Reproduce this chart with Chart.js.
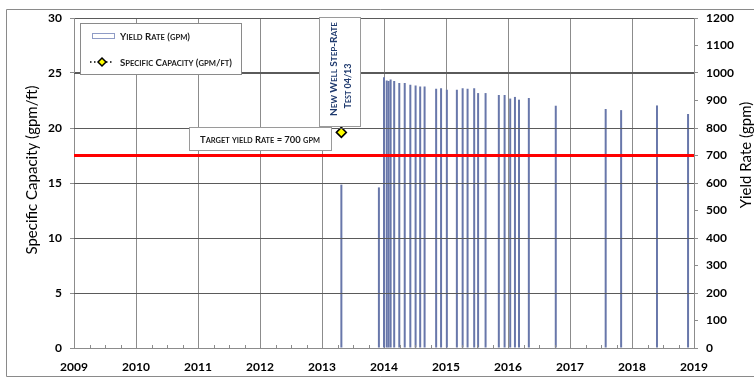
<!DOCTYPE html>
<html><head><meta charset="utf-8">
<script src="https://cdn.jsdelivr.net/npm/chart.js@4"></script>
<style>html,body{margin:0;padding:0;background:#fff}#wrap{width:754px;height:378px;position:relative}</style>
</head><body><div id="wrap"><canvas id="c"></canvas></div>
<script>
// ---- data ----
const yieldDates = ['2013-04-25','2013-12-02','2014-01-01','2014-01-17','2014-01-28','2014-02-09','2014-03-02','2014-04-01','2014-05-03','2014-06-05','2014-07-06','2014-08-02','2014-08-28','2014-11-04','2014-12-03','2015-01-06','2015-03-06','2015-04-09','2015-05-08','2015-06-16','2015-07-09','2015-08-22','2015-11-08','2015-12-12','2016-01-14','2016-02-11','2016-03-06','2016-05-03','2016-10-09','2017-07-30','2017-10-29','2018-05-28','2018-11-27'];
const yieldRates = [594,584,985,973,971,976,971,964,964,957,955,951,951,943,945,939,939,945,943,945,927,927,920,920,907,913,903,909,881,869,865,882,851];
const capDates = ['2013-04-25'];
const capValues = [19.6];
const targetYield = 700;
const yearRange = [2009, 2019];
const leftRange = [0, 30];
const rightRange = [0, 1200];

function toYear(s){
  const d = new Date(s + 'T00:00:00Z');
  const y = d.getUTCFullYear();
  const a = Date.UTC(y,0,1), b = Date.UTC(y+1,0,1);
  return y + (d.getTime()-a)/(b-a);
}
const yieldPts = yieldDates.map((d,i)=>({x:toYear(d), y:yieldRates[i]}));
const capPts = capDates.map((d,i)=>({x:toYear(d), y:capValues[i]}));
const targetPts = [{x:yearRange[0], y:targetYield},{x:yearRange[1], y:targetYield}];

const FONT = 'Lato';
const tickFont = {family: FONT, weight: 'bold', size: 12};

// small-caps text, horizontally fitted to a width
function scDraw(ctx, text, x, y, big, small, color, align, fitW){
  const runs = [];
  for (const ch of text){
    const isLower = ch !== ch.toUpperCase();
    const size = isLower ? small : big;
    const c = ch.toUpperCase();
    if (runs.length && runs[runs.length-1].size === size) runs[runs.length-1].t += c;
    else runs.push({t:c, size});
  }
  let w = 0;
  for (const r of runs){ ctx.font = `bold ${r.size}px ${FONT}`; r.w = ctx.measureText(r.t).width; w += r.w; }
  const k = fitW ? fitW / w : 1;
  ctx.save();
  ctx.translate(align === 'center' ? x - w*k/2 : x, y);
  ctx.scale(k, 1);
  ctx.fillStyle = color; ctx.textBaseline = 'alphabetic'; ctx.textAlign = 'left';
  let sx = 0;
  for (const r of runs){ ctx.font = `bold ${r.size}px ${FONT}`; ctx.fillText(r.t, sx, 0); sx += r.w; }
  ctx.restore();
}

const decor = {
  id: 'decor',
  afterDraw(chart){
    const ctx = chart.ctx, xs = chart.scales.x, ys = chart.scales.y, ca = chart.chartArea;
    ctx.save();
    // horizontal gridlines from the left value scale's ticks
    ctx.strokeStyle = '#5a5a5a'; ctx.lineWidth = 1;
    for (const t of ys.ticks){
      if (t.value <= leftRange[0] || t.value >= leftRange[1]) continue;
      const py = Math.round(ys.getPixelForValue(t.value)) + 0.5;
      ctx.beginPath(); ctx.moveTo(ca.left, py); ctx.lineTo(ca.right, py); ctx.stroke();
    }
    // minor quarter ticks on x axis
    ctx.strokeStyle = '#8c8c8c';
    for (let y = yearRange[0]; y < yearRange[1]; y++){
      for (const q of [0.25,0.5,0.75]){
        const px = Math.round(xs.getPixelForValue(y+q)) + 0.5;
        ctx.beginPath(); ctx.moveTo(px, ca.bottom); ctx.lineTo(px, ca.bottom-3); ctx.stroke();
      }
    }
    // outer frame
    ctx.strokeStyle = '#8a8a8a'; ctx.lineWidth = 1;
    ctx.beginPath();
    ctx.moveTo(754, 9.5); ctx.lineTo(6.5, 9.5); ctx.lineTo(6.5, 376.5); ctx.lineTo(754, 376.5);
    ctx.stroke();

    // legend box
    ctx.fillStyle = '#fff'; ctx.fillRect(80, 23, 162, 52);
    ctx.strokeStyle = '#8a8a8a'; ctx.strokeRect(80.5, 23.5, 161, 51);
    ctx.fillStyle = '#fff'; ctx.fillRect(92, 33, 23, 6);
    ctx.strokeStyle = '#8f9cc6'; ctx.strokeRect(92.5, 33.5, 22, 5);
    scDraw(ctx, 'Yield Rate (gpm)', 120, 40, 9.5, 7.5, '#1a1a1a', 'left', 70);
    ctx.strokeStyle = '#000'; ctx.lineWidth = 1.5; ctx.setLineDash([1.5,2.5]);
    ctx.beginPath(); ctx.moveTo(90, 62); ctx.lineTo(114, 62); ctx.stroke();
    ctx.setLineDash([]);
    ctx.beginPath(); ctx.moveTo(102, 58); ctx.lineTo(106, 62); ctx.lineTo(102, 66); ctx.lineTo(98, 62); ctx.closePath();
    ctx.fillStyle = '#ffff00'; ctx.fill(); ctx.lineWidth = 1.5; ctx.strokeStyle = '#000'; ctx.stroke();
    scDraw(ctx, 'Specific Capacity (gpm/ft)', 120, 66, 9.5, 7.5, '#1a1a1a', 'left', 112);

    // target annotation
    ctx.lineWidth = 1;
    ctx.fillStyle = '#fff'; ctx.fillRect(189, 127, 143, 24);
    ctx.strokeStyle = '#9a9a9a'; ctx.strokeRect(189.5, 127.5, 142, 23);
    scDraw(ctx, 'Target yield Rate = 700 gpm', 260, 143, 9.5, 7.5, '#1a1a1a', 'center', 120);

    // rotated annotation
    ctx.fillStyle = '#fff'; ctx.fillRect(319, 17, 42, 110);
    ctx.strokeStyle = '#9a9a9a'; ctx.strokeRect(319.5, 17.5, 41, 109);
    ctx.save();
    ctx.translate(340, 0); ctx.rotate(-Math.PI/2);
    scDraw(ctx, 'New Well Step-Rate', -69, -3, 10, 8, '#1f3a6e', 'center', 94);
    scDraw(ctx, 'Test 04/13', -86, 11, 10, 8, '#1f3a6e', 'center', 45);
    ctx.restore();

    // axis titles
    ctx.fillStyle = '#000'; ctx.font = `normal 15px ${FONT}`; ctx.textAlign = 'center'; ctx.textBaseline = 'middle';
    ctx.save(); ctx.translate(32, 170); ctx.rotate(-Math.PI/2); ctx.fillText('Specific Capacity (gpm/ft)', 0, 0); ctx.restore();
    ctx.save(); ctx.translate(746, 155); ctx.rotate(-Math.PI/2); ctx.fillText('Yield Rate (gpm)', 0, 0); ctx.restore();
    ctx.restore();
  }
};

new Chart(document.getElementById('c'), {
  type: 'bar',
  data: {
    datasets: [
      {type:'line', label:'Specific Capacity (gpm/ft)', data: capPts, yAxisID:'y', showLine:false,
       pointStyle:'rectRot', pointRadius:5, pointBackgroundColor:'#ffff00', pointBorderColor:'#000', pointBorderWidth:1.5, order:0},
      {type:'line', label:'Target Yield Rate', data: targetPts, yAxisID:'y1', borderColor:'#ff0000', borderWidth:3,
       pointRadius:0, order:1},
      {type:'bar', label:'Yield Rate (gpm)', data: yieldPts, yAxisID:'y1', backgroundColor:'#6877aa',
       borderWidth:0, barThickness:2, inflateAmount:0, order:2}
    ]
  },
  options: {
    responsive: true, maintainAspectRatio: false, animation: false,
    layout: {padding: {top: 18, left: 0, right: 0, bottom: 0}},
    plugins: {legend: {display:false}, tooltip: {enabled:false}},
    scales: {
      x: {type:'linear', min: yearRange[0], max: yearRange[1], offset:false, position:'bottom',
          ticks: {stepSize:1, autoSkip:false, maxRotation:0, callback: v => String(v), font: tickFont, color:'#000', padding: 12},
          grid: {color:'#8c8c8c', lineWidth:1, drawTicks:false, offset:false},
          border: {color:'#8c8c8c'},
          afterFit: s => { s.height = 30; }},
      y: {type:'linear', position:'left', min: leftRange[0], max: leftRange[1],
          ticks: {stepSize:5, callback: v => String(v), font: tickFont, color:'#000', padding: 8},
          grid: {color:'#5a5a5a', drawOnChartArea:true, tickColor:'#8c8c8c', tickLength:4},
          border: {color:'#8c8c8c'},
          afterFit: s => { s.width = 74; }},
      y1: {type:'linear', position:'right', min: rightRange[0], max: rightRange[1],
          ticks: {stepSize:100, callback: v => String(v), font: tickFont, color:'#000', padding: 8},
          grid: {drawOnChartArea:false, tickColor:'#8c8c8c', tickLength:4},
          border: {color:'#8c8c8c'},
          afterFit: s => { s.width = 60; }}
    }
  },
  plugins: [decor]
});
</script>
</body></html>
